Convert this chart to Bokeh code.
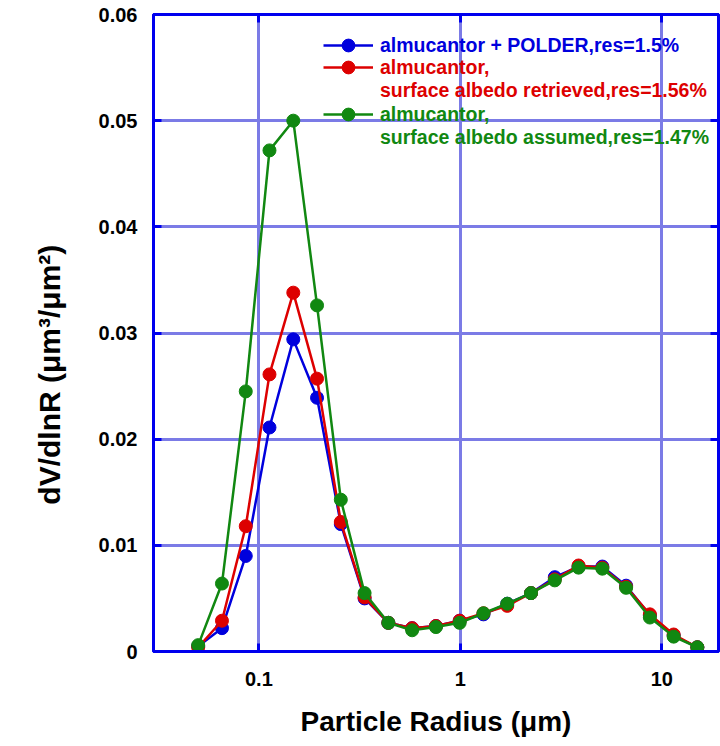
import numpy as np
from bokeh.plotting import figure
from bokeh.models import (Range1d, FixedTicker, CustomJSTickFormatter, Legend, LegendItem,
                          ColumnDataSource, LogAxis, LinearAxis)
from bokeh.embed import file_html
from bokeh.resources import INLINE

radius = [0.05, 0.0656, 0.0861, 0.1129, 0.1482, 0.1944, 0.2551, 0.3347, 0.4392, 0.5763,
          0.7562, 0.9923, 1.3020, 1.7085, 2.2418, 2.9416, 3.8599, 5.0647, 6.6457, 8.7202,
          11.4423, 15.0]

polder = [0.0005, 0.0022, 0.0090, 0.0211, 0.0294, 0.0239, 0.0120, 0.0050, 0.0027, 0.0022,
          0.0024, 0.0029, 0.0035, 0.0045, 0.0055, 0.0070, 0.0080, 0.0080, 0.0062, 0.0034,
          0.0015, 0.0004]
retrieved = [0.0004, 0.0029, 0.0118, 0.0261, 0.0338, 0.0257, 0.0122, 0.0051, 0.0027, 0.0022,
             0.0024, 0.0029, 0.0036, 0.0043, 0.0055, 0.0068, 0.0081, 0.0079, 0.0061, 0.0035,
             0.0016, 0.0004]
assumed = [0.0006, 0.0064, 0.0245, 0.0472, 0.0500, 0.0326, 0.0143, 0.0055, 0.0027, 0.0020,
           0.0023, 0.0027, 0.0036, 0.0045, 0.0055, 0.0067, 0.0079, 0.0078, 0.0060, 0.0032,
           0.0014, 0.0004]

labels = [["almucantor + POLDER,res=1.5%"],
          ["almucantor,", "surface albedo retrieved,res=1.56%"],
          ["almucantor,", "surface albedo assumed,res=1.47%"]]
colors = ["#0000dd", "#dd0000", "#118811"]
y_ticks = [0, 0.01, 0.02, 0.03, 0.04, 0.05, 0.06]
x_ticks = [0.1, 1, 10]

FONT = "Liberation Sans"
AXIS_BLUE = "#0000ee"
GRID = "#7b7be6"

p = figure(width=720, height=746, x_axis_type="log", output_backend="svg",
           toolbar_location=None, x_range=Range1d(0.03, 19.1), y_range=Range1d(0, 0.06),
           min_border_left=153, min_border_top=14, min_border_bottom=95, min_border_right=2)

p.outline_line_color = AXIS_BLUE
p.outline_line_width = 3
p.background_fill_color = "white"
p.border_fill_color = "white"


def style_axis(ax):
    ax.axis_line_color = AXIS_BLUE
    ax.axis_line_width = 3
    ax.major_tick_line_color = AXIS_BLUE
    ax.major_tick_line_width = 3
    ax.major_tick_in = 8
    ax.major_tick_out = 0
    ax.minor_tick_line_color = None
    ax.major_label_text_font = FONT
    ax.major_label_text_font_style = "bold"
    ax.major_label_text_font_size = "20px"
    ax.major_label_text_color = "black"
    ax.axis_label_text_font = FONT
    ax.axis_label_text_font_style = "bold"
    ax.axis_label_text_color = "black"


style_axis(p.xaxis[0])
style_axis(p.yaxis[0])

p.xaxis.ticker = FixedTicker(ticks=x_ticks)
p.xaxis.formatter = CustomJSTickFormatter(code="return tick.toString();")
p.xaxis.axis_label = "Particle Radius (\u03bcm)"
p.xaxis.axis_label_text_font_size = "28px"
p.xaxis.major_label_standoff = 20
p.xaxis.axis_label_standoff = 17

p.yaxis.ticker = FixedTicker(ticks=y_ticks)
p.yaxis.formatter = CustomJSTickFormatter(code="return tick == 0 ? '0' : tick.toFixed(2);")
p.yaxis.axis_label = "dV/dlnR (\u03bcm\u00b3/\u03bcm\u00b2)" + "\u00a0" * 10
p.yaxis.axis_label_text_font_size = "30px"
p.yaxis.major_label_standoff = 16
p.yaxis.axis_label_standoff = 30

# mirror axes (ticks only) on top and right
top = LogAxis(ticker=FixedTicker(ticks=x_ticks),
              formatter=CustomJSTickFormatter(code="return '';"))
right = LinearAxis(ticker=FixedTicker(ticks=y_ticks),
                   formatter=CustomJSTickFormatter(code="return '';"))
for ax in (top, right):
    style_axis(ax)
    ax.major_label_text_font_size = "0px"
    ax.major_label_standoff = 0
p.add_layout(top, "above")
p.add_layout(right, "right")

p.xgrid.grid_line_color = GRID
p.ygrid.grid_line_color = GRID
p.xgrid.grid_line_width = 3
p.ygrid.grid_line_width = 3
p.xgrid.ticker = FixedTicker(ticks=x_ticks)
p.ygrid.ticker = FixedTicker(ticks=y_ticks)

series = [polder, retrieved, assumed]
renderers = []
for vals, col in zip(series, colors):
    src = ColumnDataSource(dict(x=radius, y=vals))
    l = p.line("x", "y", source=src, line_color=col, line_width=2.5)
    c = p.scatter("x", "y", source=src, size=13, fill_color=col, line_color=col)
    renderers.append([l, c])

# invisible renderer used for second legend lines (no glyph sample)
blank = p.scatter(x=[], y=[], fill_alpha=0, line_alpha=0)

# legend rows: centre y of each row (pixels from top of canvas)
row_y = [[45], [67, 90], [114, 137]]
frame_h = 746 - 14 - 95
for lines, col, rs, ys in zip(labels, colors, renderers, row_y):
    for i, (txt, cy) in enumerate(zip(lines, ys)):
        leg = Legend(items=[LegendItem(label=txt, renderers=rs if i == 0 else [blank])],
                     location=(170, frame_h - (cy - 14 + 16)),
                     background_fill_alpha=0, border_line_alpha=0,
                     label_text_color=col, label_text_font=FONT,
                     label_text_font_style="bold", label_text_font_size="19.5px",
                     glyph_width=50, glyph_height=32, label_standoff=7,
                     padding=0, margin=0, spacing=0, label_height=20)
        p.add_layout(leg, "center")

open("out.html", "w").write(file_html(p, INLINE))
